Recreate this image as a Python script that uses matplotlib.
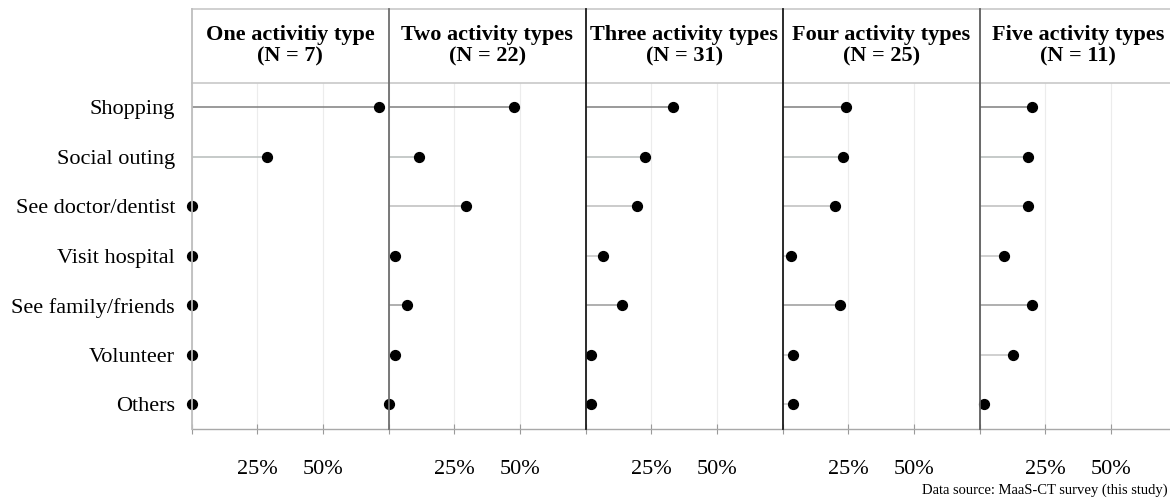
import numpy as np
import matplotlib
matplotlib.use("Agg")
import matplotlib.pyplot as plt
from matplotlib.lines import Line2D

plt.rcParams['font.family'] = ['Liberation Serif', 'DejaVu Serif']

# data: share of reported trips (%) by activity, one list per panel
activities = ["Shopping", "Social outing", "See doctor/dentist", "Visit hospital",
              "See family/friends", "Volunteer", "Others"]
panel_titles = ["One activitiy type\n(N = 7)", "Two activity types\n(N = 22)",
                "Three activity types\n(N = 31)", "Four activity types\n(N = 25)",
                "Five activity types\n(N = 11)"]
one_type = [71.4, 28.6, 0.0, 0.0, 0.0, 0.0, 0.0]
two_types = [47.7, 11.4, 29.5, 2.3, 6.8, 2.3, 0.0]
three_types = [33.3, 22.6, 19.4, 6.5, 14.0, 2.2, 2.2]
four_types = [24.0, 23.0, 20.0, 3.0, 22.0, 4.0, 4.0]
five_types = [20.0, 18.2, 18.2, 9.1, 20.0, 12.7, 1.8]
panels = [one_type, two_types, three_types, four_types, five_types]

seg_colors = ["#7f7f7f", "#b6bcba", "#bdbdbd", "#c4c4c4", "#9a9a9a", "#c4c4c4", "#c4c4c4"]
divider_colors = ["#bebebe", "#6e6e6e", "#1a1a1a", "#1a1a1a", "#5e5e5e"]

W, H = 1170, 499
fig = plt.figure(figsize=(W / 100, H / 100), dpi=100)

x0 = 191.7      # left edge of first panel (px)
pw = 197.0      # panel width (px)
top_strip = 9.0
top_panel = 82.5
bottom_panel = 429.0

y = np.arange(len(activities))

for i, vals in enumerate(panels):
    left = x0 + i * pw
    ax = fig.add_axes([left / W, 1 - bottom_panel / H, pw / W, (bottom_panel - top_panel) / H])
    ax.set_xlim(0, 75)
    ax.set_ylim(len(activities) - 0.5, -0.5)

    ax.hlines(y, 0, vals, colors=seg_colors, linewidth=1.1, zorder=2)
    ax.scatter(vals, y, s=50, color="black", zorder=3, clip_on=False)

    ax.set_xticks([0, 25, 50])
    ax.set_xticklabels(["", "25%", "50%"])
    ax.tick_params(axis="x", direction="inout", length=7, width=0.8, color="#9a9a9a",
                   labelsize=16, pad=19)
    ax.grid(axis="x", color="#ececec", linewidth=0.8)
    ax.set_axisbelow(True)

    ax.set_yticks(y)
    if i == 0:
        ax.set_yticklabels(activities, fontsize=16)
        ax.tick_params(axis="y", length=0, pad=12)
    else:
        ax.set_yticklabels([])
        ax.tick_params(axis="y", length=0)

    for s in ["top", "right", "left"]:
        ax.spines[s].set_visible(False)
    ax.spines["bottom"].set_color("#a8a8a8")
    ax.spines["bottom"].set_linewidth(1.0)

    # strip header
    sx = fig.add_axes([left / W, 1 - top_panel / H, pw / W, (top_panel - top_strip) / H])
    sx.set_xlim(0, 1)
    sx.set_ylim(0, 1)
    sx.axis("off")
    sx.text(0.5, 0.50, panel_titles[i], ha="center", va="center", fontsize=16,
            fontweight="bold", linespacing=1.08)

    # panel divider running through strip and panel
    fig.add_artist(Line2D([left / W, left / W], [1 - top_strip / H, 1 - bottom_panel / H],
                          color=divider_colors[i], linewidth=1.3, zorder=5))

# strip borders
for yy in [top_strip, top_panel]:
    fig.add_artist(Line2D([x0 / W, 1.01], [1 - yy / H, 1 - yy / H],
                          color="#c8c8c8", linewidth=1.2))

fig.text(1168 / W, 1 - 490 / H, "Data source: MaaS-CT survey (this study)",
         ha="right", va="center", fontsize=10.5)

fig.savefig("out.png", dpi=100)
